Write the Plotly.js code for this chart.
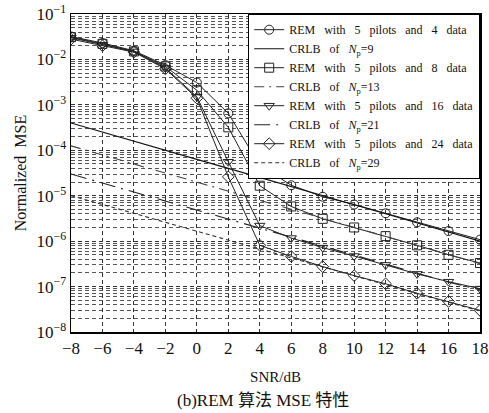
<!DOCTYPE html>
<html><head><meta charset="utf-8">
<script src="https://cdn.plot.ly/plotly-3.0.1.min.js"></script>
<style>body{margin:0;background:#fff}</style>
</head><body><div id="chart" style="width:489px;height:413px"></div>
<script>
const snr = [-8,-6,-4,-2,0,2,4,6,8,10,12,14,16,18];
const rem4  = [3.2e-2,2.3e-2,1.55e-2,7.5e-3,3.1e-3,6.5e-4,4.7e-5,1.7e-5,9.5e-6,6.4e-6,4.1e-6,2.6e-6,1.67e-6,1.08e-6];
const rem8  = [3.1e-2,2.2e-2,1.5e-2,7.0e-3,2.1e-3,3.2e-4,1.66e-5,5.8e-6,3.1e-6,2.0e-6,1.29e-6,8.1e-7,5.0e-7,3.3e-7];
const rem16 = [3.0e-2,2.1e-2,1.5e-2,6.5e-3,1.5e-3,5.6e-5,2.2e-6,1.17e-6,7.2e-7,4.7e-7,3.0e-7,1.9e-7,1.28e-7,9.0e-8];
const rem24 = [2.8e-2,2.0e-2,1.45e-2,6.2e-3,1.4e-3,2.6e-5,8.1e-7,4.6e-7,2.75e-7,1.74e-7,1.15e-7,7.1e-8,4.7e-8,3.0e-8];
const crlb9  = [4.0e-4,2.5e-4,1.6e-4,1.0e-4,6.3e-5,4.0e-5,2.5e-5,1.6e-5,1.0e-5,6.3e-6,4.0e-6,2.5e-6,1.6e-6,1.0e-6];
const crlb13 = [1.25e-4,7.9e-5,5.0e-5,3.1e-5,2.0e-5,1.25e-5,7.9e-6,5.0e-6,3.1e-6,2.0e-6,1.25e-6,7.9e-7,5.0e-7,3.2e-7];
const crlb21 = [3.0e-5,1.9e-5,1.2e-5,7.6e-6,4.8e-6,3.0e-6,1.9e-6,1.2e-6,7.6e-7,4.8e-7,3.0e-7,1.9e-7,1.25e-7,8.5e-8];
const crlb29 = [1.0e-5,6.5e-6,4.1e-6,2.6e-6,1.65e-6,1.05e-6,6.6e-7,4.2e-7,2.7e-7,1.7e-7,1.1e-7,7.0e-8,4.5e-8,2.9e-8];
const S = ' \u00a0\u00a0';
const names = ['REM with 5 pilots and 4 data','CRLB of <i>N</i><sub>p</sub>=9',
  'REM with 5 pilots and 8 data','CRLB of <i>N</i><sub>p</sub>=13',
  'REM with 5 pilots and 16 data','CRLB of <i>N</i><sub>p</sub>=21',
  'REM with 5 pilots and 24 data','CRLB of <i>N</i><sub>p</sub>=29'];
const xticks = [-8,-6,-4,-2,0,2,4,6,8,10,12,14,16,18];
const yticks = [1e-8,1e-7,1e-6,1e-5,1e-4,1e-3,1e-2,1e-1];
const yticktext = ['10<sup>−8</sup>','10<sup>−7</sup>','10<sup>−6</sup>','10<sup>−5</sup>','10<sup>−4</sup>','10<sup>−3</sup>','10<sup>−2</sup>','10<sup>−1</sup>'];

const minorVals = [];
for (let e=-8; e<-1; e++) for (let m=2; m<10; m++) minorVals.push(m*Math.pow(10,e));

function spaced(s){ return s.split(' ').join(S); }
function rem(y, name, sym){
  return {x:snr, y:y, name:spaced(name), mode:'lines+markers',
    line:{color:'#222', width:1},
    marker:{symbol:sym, size:9, color:'#222', line:{width:1, color:'#222'}}};
}
function crlb(y, name, dash, col){
  return {x:snr, y:y, name:spaced(name), mode:'lines', line:{color:col, width:1.1, dash:dash}};
}
const data = [
  rem(rem4, names[0], 'circle-open'),
  crlb(crlb9, names[1], 'solid', '#111'),
  rem(rem8, names[2], 'square-open'),
  crlb(crlb13, names[3], '10px,5px,2px,5px', '#444'),
  rem(rem16, names[4], 'triangle-down-open'),
  crlb(crlb21, names[5], '16px,6px,2px,6px', '#222'),
  rem(rem24, names[6], 'diamond-open'),
  crlb(crlb29, names[7], '4px,3px', '#333')
];
const gridc = '#333';
const layout = {
  width:489, height:413,
  margin:{l:71, r:9, t:14, b:81},
  paper_bgcolor:'#fff', plot_bgcolor:'#fff',
  font:{family:'"Liberation Serif","Times New Roman",serif', color:'#111', size:17},
  showlegend:true,
  xaxis:{range:[-8,18], tickmode:'array', tickvals:xticks,
    showgrid:true, gridcolor:gridc, griddash:'4px,3px', gridwidth:1,
    showline:true, mirror:true, linecolor:'#000', linewidth:1.5, zeroline:false,
    ticks:'', tickfont:{size:17},
    title:{text:'SNR/dB', font:{size:15}, standoff:14}},
  yaxis:{type:'log', range:[-8,-1], tickmode:'array', tickvals:yticks, ticktext:yticktext,
    showgrid:true, gridcolor:gridc, griddash:'4px,3px', gridwidth:1,
    showline:true, mirror:true, linecolor:'#000', linewidth:1.5, zeroline:false,
    ticks:'', tickfont:{size:17},
    minor:{tickmode:'array', tickvals:minorVals, showgrid:true, gridcolor:'#555', griddash:'4px,3px', gridwidth:1, ticks:''},
    title:{text:'Normalized\u00a0\u00a0MSE', font:{size:16}, standoff:6}},
  legend:{x:1, xanchor:'right', y:1, yanchor:'top', bgcolor:'#fff', bordercolor:'#000', borderwidth:1.2,
    font:{size:12}, tracegroupgap:0, itemwidth:30},
  annotations:[{text:'(b)REM 算法 MSE 特性', xref:'paper', yref:'paper', x:0.469, y:-0.214,
    xanchor:'center', yanchor:'middle', showarrow:false,
    font:{size:17, family:'"Liberation Serif","Noto Sans CJK SC",serif'}}]
};
Plotly.newPlot('chart', data, layout, {displayModeBar:false, staticPlot:true});
</script></body></html>
